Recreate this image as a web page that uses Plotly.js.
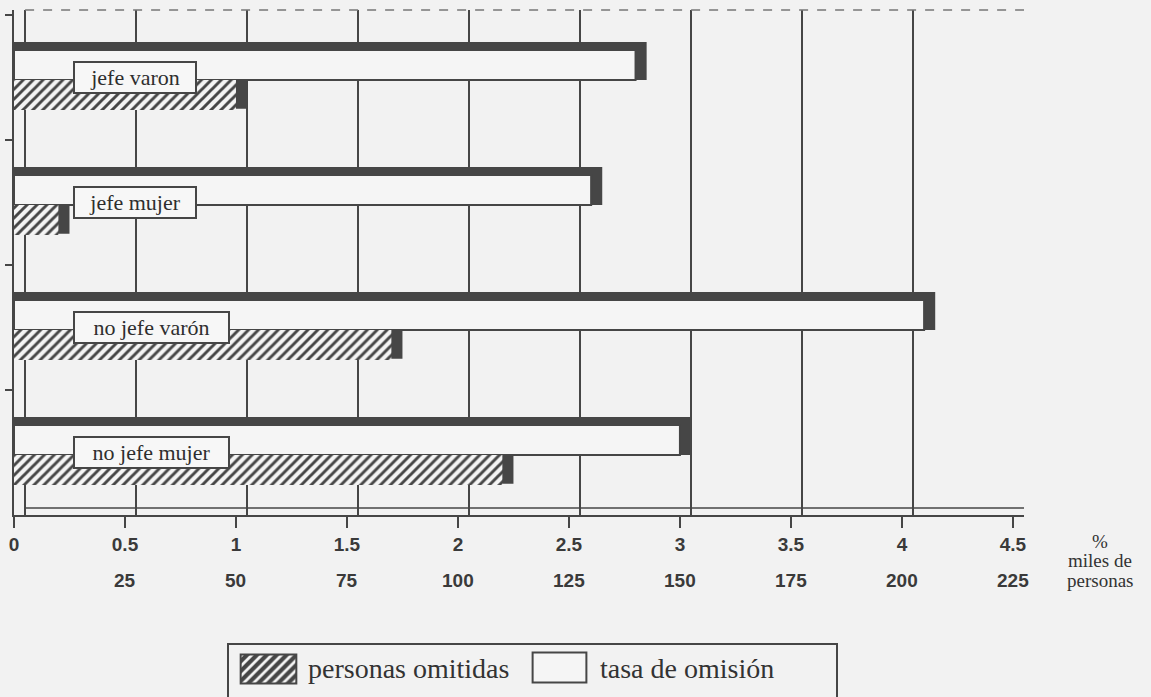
<!DOCTYPE html>
<html>
<head>
<meta charset="utf-8">
<script src="https://cdn.plot.ly/plotly-3.0.1.min.js"></script>
<style>html,body{margin:0;padding:0;background:#f2f2f2;}#chart{width:1151px;height:697px;}</style>
</head>
<body>
<div id="chart"></div>
<script>
// ---- data ----
const categories = ['jefe varon', 'jefe mujer', 'no jefe varón', 'no jefe mujer'];
const tasaOmision = [2.8, 2.6, 4.1, 3.0];              // %
const personasOmitidasMiles = [50, 10, 85, 110];        // miles de personas
const pctTicks = [0, 0.5, 1, 1.5, 2, 2.5, 3, 3.5, 4, 4.5];
const milesTicks = [25, 50, 75, 100, 125, 150, 175, 200, 225];
const seriesNames = ['personas omitidas', 'tasa de omisión'];
const MILES_PER_PCT = 50;   // 25 miles <-> 0.5 %

// ---- style ----
const DARK = '#464646';
const BG = '#f2f2f2';
const FACE = '#f5f5f5';
const DEPTH = 0.05;   // 3-D depth along x (data units)
const SERIF = 'Liberation Serif, DejaVu Serif, serif';
const SANS = 'Liberation Sans, Arial, sans-serif';

const personasPct = personasOmitidasMiles.map(v => v / MILES_PER_PCT);
const hatch = (sol) => ({ shape: '/', fgcolor: DARK, bgcolor: FACE, size: 7, solidity: sol });

const traces = [
  { // 3-D top + side of the rate bars
    type: 'bar', orientation: 'h', y: categories,
    x: tasaOmision.map(v => v + DEPTH),
    offset: -0.284, width: 0.304,
    marker: { color: DARK, line: { width: 0 } },
    showlegend: false, hoverinfo: 'skip'
  },
  { // 3-D side of the hatched bars
    type: 'bar', orientation: 'h', y: categories,
    x: personasPct.map(v => v + DEPTH),
    offset: -0.03, width: 0.28,
    marker: { color: DARK, line: { width: 0 } },
    showlegend: false, hoverinfo: 'skip'
  },
  {
    type: 'bar', orientation: 'h', y: categories, x: tasaOmision,
    name: seriesNames[1], showlegend: false,
    offset: -0.22, width: 0.24,
    marker: { color: FACE, line: { width: 2, color: DARK } }
  },
  {
    type: 'bar', orientation: 'h', y: categories, x: personasPct,
    name: seriesNames[0], showlegend: false,
    customdata: personasOmitidasMiles,
    hovertemplate: '%{y}: %{customdata} mil<extra></extra>',
    offset: 0.02, width: 0.24,
    marker: { color: FACE, line: { width: 0 }, pattern: hatch(0.42) }
  },
  { // carrier for the back-wall grid axis
    type: 'scatter', x: [0], y: [categories[0]], xaxis: 'x2', mode: 'none',
    showlegend: false, hoverinfo: 'skip'
  },
  // legend swatches
  {
    type: 'bar', orientation: 'h', x: [1], y: [0], width: 1, xaxis: 'x3', yaxis: 'y3',
    name: seriesNames[0], showlegend: false, hoverinfo: 'skip',
    marker: { color: FACE, line: { width: 2, color: DARK }, pattern: hatch(0.6) }
  },
  {
    type: 'bar', orientation: 'h', x: [1], y: [0], width: 1, xaxis: 'x4', yaxis: 'y4',
    name: seriesNames[1], showlegend: false, hoverinfo: 'skip',
    marker: { color: FACE, line: { width: 2, color: DARK } }
  }
];

// paper y for the area below the plot (margin b = 0, t = 10)
const py = (px) => (697 - px) / 687;

const annotations = categories.map(c => ({
  x: 0.265, y: c, xref: 'x', yref: 'y', xanchor: 'left', yanchor: 'middle',
  text: c, showarrow: false, width: c.length * 11 + 6, align: 'center',
  font: { family: SERIF, size: 22, color: '#2e2e2e' },
  bgcolor: '#f7f7f7', bordercolor: DARK, borderwidth: 2, borderpad: 2
}));

milesTicks.forEach(m => annotations.push({
  x: m / MILES_PER_PCT, y: py(580), xref: 'x', yref: 'paper',
  xanchor: 'center', yanchor: 'middle', showarrow: false,
  text: String(m),
  font: { family: SANS, size: 19, color: '#3a3a3a', weight: 'bold' }
}));

const unitFont = { family: SERIF, size: 19, color: '#333' };
annotations.push(
  { x: 1.075, y: py(541), xref: 'paper', yref: 'paper', xanchor: 'center', yanchor: 'middle',
    showarrow: false, text: '%', font: unitFont },
  { x: 1.075, y: py(560), xref: 'paper', yref: 'paper', xanchor: 'center', yanchor: 'middle',
    showarrow: false, text: 'miles de', font: unitFont },
  { x: 1.075, y: py(580), xref: 'paper', yref: 'paper', xanchor: 'center', yanchor: 'middle',
    showarrow: false, text: 'personas', font: unitFont },
  // legend texts
  { x: (306 - 14) / 1010, y: py(668), xref: 'paper', yref: 'paper', xanchor: 'left', yanchor: 'middle',
    showarrow: false, text: seriesNames[0], font: { family: SERIF, size: 28, color: '#333' } },
  { x: (598 - 14) / 1010, y: py(668), xref: 'paper', yref: 'paper', xanchor: 'left', yanchor: 'middle',
    showarrow: false, text: seriesNames[1], font: { family: SERIF, size: 28, color: '#333' } }
);

const hiddenAx = (dom, anchor, rng) => ({
  domain: dom, anchor: anchor, range: rng, fixedrange: true,
  showgrid: false, zeroline: false, showticklabels: false, ticks: '', showline: false
});

const layout = {
  width: 1151, height: 697,
  margin: { l: 14, r: 127, t: 10, b: 0, pad: 0 },
  paper_bgcolor: BG, plot_bgcolor: BG,
  barmode: 'overlay',
  showlegend: false,
  xaxis: {
    range: [0, pctTicks[pctTicks.length - 1] + DEPTH],
    tickmode: 'array', tickvals: pctTicks, ticktext: pctTicks.map(String),
    ticks: 'outside', ticklen: 11, tickwidth: 2, tickcolor: DARK,
    showline: true, linewidth: 2, linecolor: DARK,
    showgrid: false, zeroline: false,
    tickfont: { family: SANS, size: 19, color: '#3a3a3a', weight: 'bold' }
  },
  xaxis2: {
    overlaying: 'x', anchor: 'y', side: 'bottom',
    range: [-DEPTH, pctTicks[pctTicks.length - 1]],
    tickmode: 'array', tickvals: pctTicks,
    showticklabels: false, ticks: '',
    showgrid: true, gridcolor: DARK, gridwidth: 2,
    zeroline: false, showline: false
  },
  yaxis: {
    domain: [py(515), 1],
    type: 'category', categoryorder: 'array', categoryarray: categories,
    range: [3.5, -0.54],
    showticklabels: false, ticks: 'outside', tickson: 'boundaries',
    ticklen: 7, tickwidth: 2, tickcolor: DARK,
    showline: true, linewidth: 2, linecolor: DARK,
    showgrid: false, zeroline: false
  },
  xaxis3: hiddenAx([(239 - 14) / 1010, (298 - 14) / 1010], 'y3', [-0.03, 1.03]),
  yaxis3: hiddenAx([py(685), py(653)], 'x3', [-0.55, 0.55]),
  xaxis4: hiddenAx([(531 - 14) / 1010, (588 - 14) / 1010], 'y4', [-0.03, 1.03]),
  yaxis4: hiddenAx([py(684), py(651)], 'x4', [-0.55, 0.55]),
  shapes: [
    { type: 'line', xref: 'x', yref: 'paper', x0: DEPTH, x1: pctTicks[pctTicks.length - 1] + DEPTH,
      y0: py(508), y1: py(508), line: { color: DARK, width: 1.5 } },
    { type: 'line', xref: 'x', yref: 'paper', x0: DEPTH, x1: pctTicks[pctTicks.length - 1] + DEPTH,
      y0: 1, y1: 1, line: { color: '#777', width: 1.5, dash: 'dash' } },
    // legend frame
    { type: 'rect', xref: 'paper', yref: 'paper',
      x0: (228 - 14) / 1010, x1: (837 - 14) / 1010, y0: py(705), y1: py(644),
      line: { color: DARK, width: 2 }, fillcolor: 'rgba(0,0,0,0)' }
  ],
  annotations: annotations
};

Plotly.newPlot('chart', traces, layout, { displayModeBar: false, staticPlot: true });
</script>
</body>
</html>
